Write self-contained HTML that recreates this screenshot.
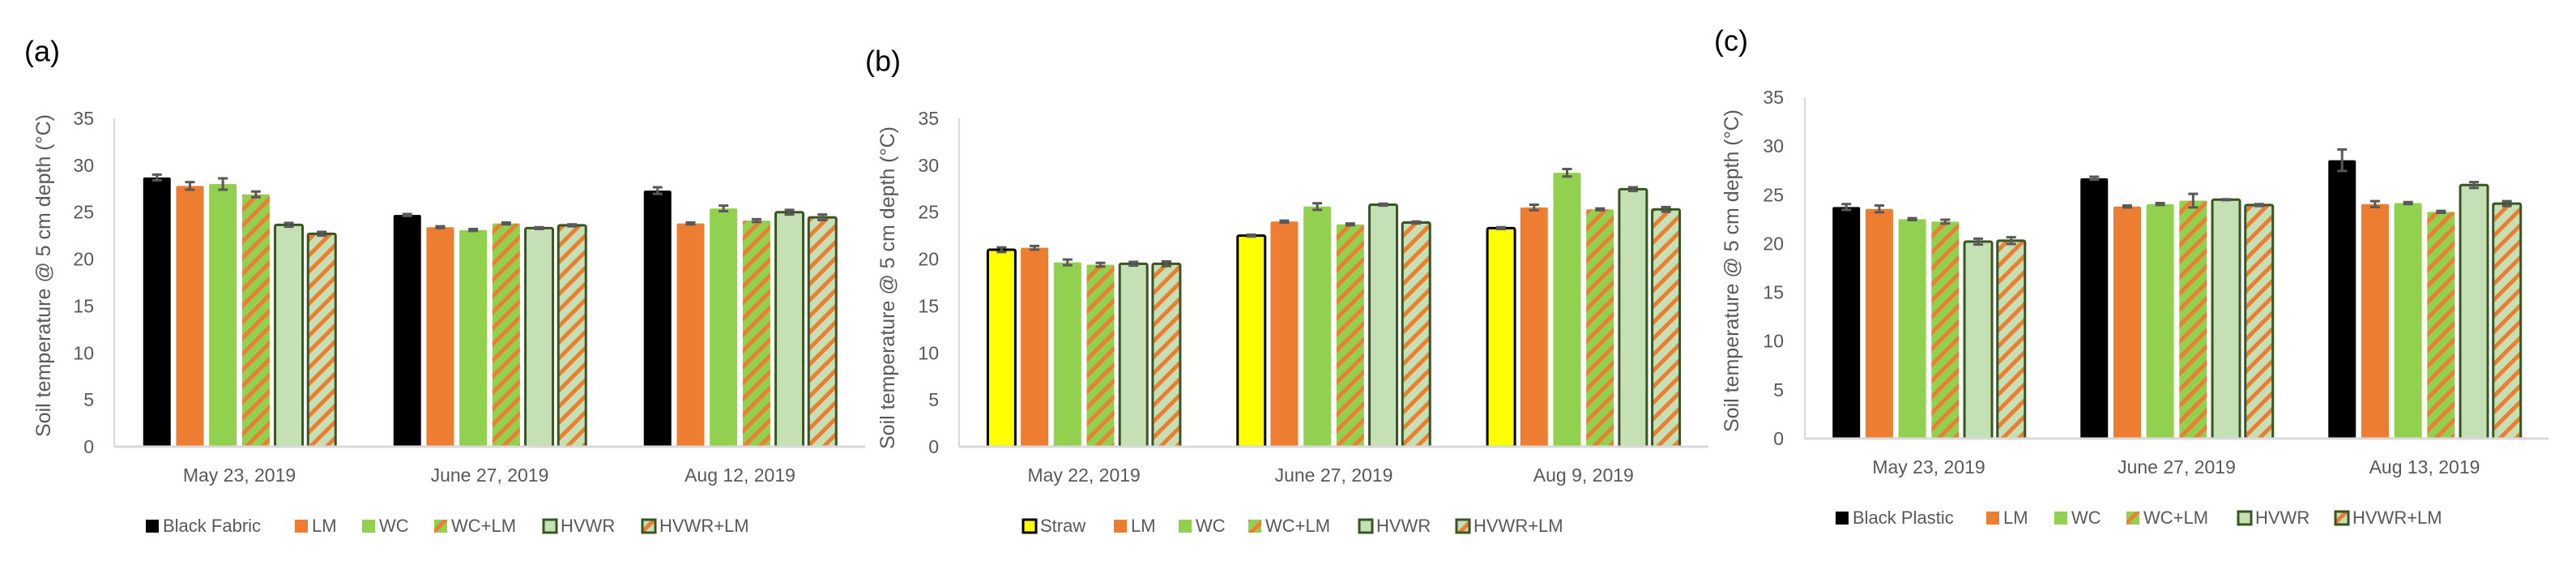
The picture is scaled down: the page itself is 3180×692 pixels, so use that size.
<!DOCTYPE html>
<html><head><meta charset="utf-8">
<style>
html,body{margin:0;padding:0;background:#fff;}
svg{display:block;font-family:"Liberation Sans",sans-serif;}
</style></head>
<body>
<svg id="chart" width="3180" height="692" viewBox="0 0 3180 692" xmlns="http://www.w3.org/2000/svg">
<defs>
<pattern id="hatchG" patternUnits="userSpaceOnUse" width="14" height="14" patternTransform="rotate(45)">
<rect width="14" height="14" fill="#92D050"/><rect width="5" height="14" fill="#ED7D31"/></pattern>
<pattern id="hatchL" patternUnits="userSpaceOnUse" width="14" height="14" patternTransform="rotate(45)">
<rect width="14" height="14" fill="#C5E0B4"/><rect width="5" height="14" fill="#ED7D31"/></pattern>
</defs>
</svg>
<script>
// Panel (a)
const catsA = ["May 23, 2019","June 27, 2019","Aug 12, 2019"];
const seriesA = ["Black Fabric","LM","WC","WC+LM","HVWR","HVWR+LM"];
const valsA = [[28.7,24.7,27.3],[27.8,23.4,23.8],[28.0,23.1,25.4],[26.9,23.8,24.1],[23.65,23.3,25.0],[22.7,23.6,24.45]];
const errA = [[0.3,0.1,0.35],[0.4,0.1,0.1],[0.6,0.1,0.3],[0.3,0.1,0.15],[0.2,0.1,0.25],[0.2,0.1,0.3]];
// Panel (b)
const catsB = ["May 22, 2019","June 27, 2019","Aug 9, 2019"];
const seriesB = ["Straw","LM","WC","WC+LM","HVWR","HVWR+LM"];
const valsB = [[21.0,22.5,23.3],[21.2,24.0,25.5],[19.65,25.6,29.2],[19.4,23.7,25.3],[19.5,25.8,27.45],[19.5,23.9,25.3]];
const errB = [[0.25,0.1,0.1],[0.2,0.1,0.3],[0.3,0.35,0.4],[0.2,0.1,0.1],[0.2,0.1,0.2],[0.25,0.1,0.25]];
// Panel (c)
const catsC = ["May 23, 2019","June 27, 2019","Aug 13, 2019"];
const seriesC = ["Black Plastic","LM","WC","WC+LM","HVWR","HVWR+LM"];
const valsC = [[23.75,26.7,28.55],[23.55,23.8,24.05],[22.5,24.05,24.15],[22.25,24.4,23.25],[20.2,24.5,26.0],[20.3,23.95,24.1]];
const errC = [[0.3,0.15,1.1],[0.35,0.1,0.3],[0.1,0.1,0.1],[0.2,0.7,0.1],[0.3,0.05,0.3],[0.35,0.1,0.25]];
const yTicks = [0,5,10,15,20,25,30,35];

const NS="http://www.w3.org/2000/svg";
const svg=document.getElementById('chart');
function mk(tag,attrs,parent){const e=document.createElementNS(NS,tag);for(const k in attrs)e.setAttribute(k,attrs[k]);(parent||svg).appendChild(e);return e;}
const styles={
 "Black Fabric":{fill:"#000",stroke:"none"},
 "Black Plastic":{fill:"#000",stroke:"none"},
 "Straw":{fill:"#FFFF00",stroke:"#000"},
 "LM":{fill:"#ED7D31",stroke:"none"},
 "WC":{fill:"#92D050",stroke:"none"},
 "WC+LM":{fill:"url(#hatchG)",stroke:"none"},
 "HVWR":{fill:"#C5E0B4",stroke:"#375623"},
 "HVWR+LM":{fill:"url(#hatchL)",stroke:"#375623"}
};
function panel(p){
 const g=mk('g',{});
 
 
 const yS=v=>p.y0-(p.y0-p.y35)*v/35;
 const catW=(p.x1-p.x0)/p.cats.length;
 const xC=i=>p.x0+catW*(i+0.5);
 const lab=mk('text',{x:p.lx,y:p.ly,'font-size':36,fill:'#000','dominant-baseline':'middle'},g);
 lab.textContent='('+p.id+')';
 
 
 yTicks.forEach(t=>{
  const tx=mk('text',{x:p.tickX,y:yS(t)+8,'font-size':23,fill:'#595959','text-anchor':'end'},g);
  tx.textContent=t;
  
  
 });
 const yl=mk('line',{x1:p.x0,y1:p.y35,x2:p.x0,y2:p.y0,stroke:'#D9D9D9','stroke-width':2},g);
 
 
 const tt=mk('text',{x:0,y:0,'font-size':25,fill:'#595959','text-anchor':'middle',transform:`translate(${p.tx},${p.ty}) rotate(-90)`},g);
 tt.textContent='Soil temperature @ 5 cm depth  (°C)';
 
 
 const pitch=40.7,bw=34;
 p.series.forEach((s,si)=>{
  const st=styles[s];
  p.cats.forEach((c,ci)=>{
   const v=p.vals[si][ci];
   const x=xC(ci)+(si-2.5)*pitch-bw/2;
   const r=mk('rect',{x:x,y:yS(v),width:bw,height:yS(0)-yS(v),fill:st.fill,rx:2},g);
   if(st.stroke!=='none'){r.setAttribute('stroke',st.stroke);r.setAttribute('stroke-width',3);}
   
   
   const e=p.err[si][ci],cx=x+bw/2;
   const eg=mk('path',{d:`M${cx} ${yS(v+e)}V${yS(v-e)}M${cx-6} ${yS(v+e)}H${cx+6}M${cx-6} ${yS(v-e)}H${cx+6}`,stroke:'#595959','stroke-width':3,fill:'none'},g);
   
   
  });
 });
 const xl=mk('line',{x1:p.x0,y1:p.y0,x2:p.x1,y2:p.y0,stroke:'#D9D9D9','stroke-width':3},g);
 
 
 p.cats.forEach((c,ci)=>{
  const t=mk('text',{x:xC(ci),y:p.catY,'font-size':23,fill:'#595959','text-anchor':'middle','dominant-baseline':'middle'},g);
  t.textContent=c;
  
  
 });
 p.series.forEach((s,si)=>{
  const st=styles[s];
  const lg=mk('g',{},g);
  
  
  const sx=p.legX[si];
  const sq=mk('rect',{x:sx,y:p.legY-8,width:16,height:16,fill:st.fill},lg);
  if(st.stroke!=='none'){sq.setAttribute('stroke',st.stroke);sq.setAttribute('stroke-width',3);}
  
  
  const lt=mk('text',{x:sx+21,y:p.legY+1,'font-size':22,fill:'#595959','dominant-baseline':'middle'},lg);
  lt.textContent=s;
  
  
 });
}
panel({id:'a',cats:catsA,series:seriesA,vals:valsA,err:errA,x0:141,x1:1068,y0:551,y35:146,tickX:116,tx:62,ty:340,lx:30,ly:66,catY:588,legY:649,legX:[180,364,447,536,671,793]});
panel({id:'b',cats:catsB,series:seriesB,vals:valsB,err:errB,x0:1184,x1:2109,y0:551,y35:146,tickX:1159,tx:1104,ty:355,lx:1068,ly:78,catY:588,legY:649,legX:[1263,1375,1455,1541,1678,1798]});
panel({id:'c',cats:catsC,series:seriesC,vals:valsC,err:errC,x0:2228,x1:3146,y0:541,y35:120,tickX:2202,tx:2146,ty:334,lx:2116,ly:53,catY:578,legY:639,legX:[2266,2452,2536,2625,2763,2883]});
</script>
</body></html>
